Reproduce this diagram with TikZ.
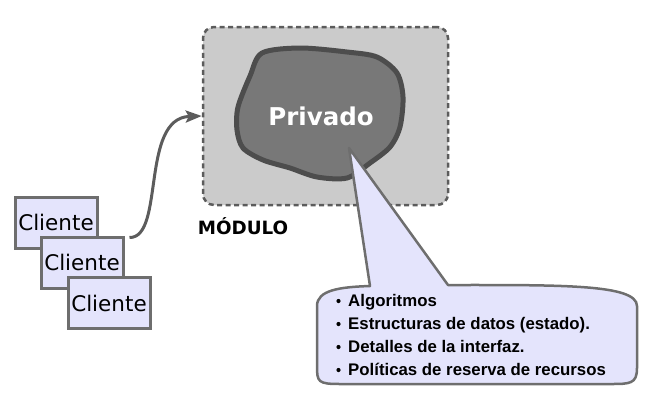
\documentclass[tikz,border=0pt]{standalone}
\usepackage{fontspec}
\setmainfont{DejaVu Sans}
\newfontfamily\itemfont{Liberation Sans}
\usepackage{xcolor}
\usetikzlibrary{arrows.meta}

\definecolor{modfill}{HTML}{CBCBCB}
\definecolor{modline}{HTML}{5C5C5C}
\definecolor{blobfill}{HTML}{787878}
\definecolor{blobline}{HTML}{4D4D4D}
\definecolor{lavender}{HTML}{E4E4FC}
\definecolor{boxline}{HTML}{6E6E6E}

\begin{document}
\begin{tikzpicture}[x=1pt,y=1pt,yscale=-1,
    clientbox/.style={draw=boxline, line width=3pt, fill=lavender, minimum width=82pt, minimum height=51pt, inner sep=0pt, font=\fontsize{21.5}{21.5}\selectfont},
    itemtext/.style={anchor=base west, inner sep=0pt, font=\itemfont\bfseries\fontsize{16.8}{16.8}\selectfont}]

    \useasboundingbox (0,0) rectangle (656,405);

    % modulo
    \draw (325.5,116) node [draw=modline, line width=2.5pt, dash pattern=on 5pt off 3.5pt, fill=modfill, rounded corners=11pt, minimum width=245pt, minimum height=178pt] (modulo) {};
    \draw (243,226) node [font=\bfseries\fontsize{18.3}{18.3}\selectfont] (modlabel) {MÓDULO};

    % parte privada
    \draw [fill=blobfill, draw=blobline, line width=5pt] plot [smooth cycle] coordinates {(262,53) (300,48) (347,52) (377,57) (397,73) (403,97) (400,127) (390,147) (370,163) (347,178) (317,177) (290,168) (263,160) (243,148) (237,130) (238,107) (250,76)};
    \draw (321,116) node [text=white, font=\bfseries\fontsize{24.5}{24.5}\selectfont] (privado) {Privado};

    % globo
    \coordinate (tip) at (349,148);
    \draw [fill=lavender, draw=boxline, line width=2.5pt, line join=round] (tip) -- (448,285) .. controls (560,285) and (637,284) .. (637,306) -- (637,368) .. controls (637,384) and (630,384) .. (610,384) -- (340,384) .. controls (318,384) and (317,382) .. (317,366) -- (317,306) .. controls (317,290) and (340,287) .. (370,286) -- cycle;
    \draw (348,306) node [itemtext] (item1) {Algoritmos};
    \draw (348,329) node [itemtext] (item2) {Estructuras de datos (estado).};
    \draw (348,352) node [itemtext] (item3) {Detalles de la interfaz.};
    \draw (348,375) node [itemtext] (item4) {Políticas de reserva de recursos};
    \foreach \i in {1,...,4}
        \fill (item\i.base west) ++(-9.5,-5) circle (2.1pt);

    % clientes
    \draw (56,222.5) node [clientbox] (cliente1) {Cliente};
    \draw (82,262.5) node [clientbox] (cliente2) {Cliente};
    \draw (109,303) node [clientbox] (cliente3) {Cliente};

    \draw [modline, line width=3pt, -{Stealth[length=16pt,width=12pt,inset=3pt]}] ([xshift=5pt,yshift=2pt]cliente2.north east) .. controls (165,238) and (140,118) .. (modulo.west);

\end{tikzpicture}
\end{document}
